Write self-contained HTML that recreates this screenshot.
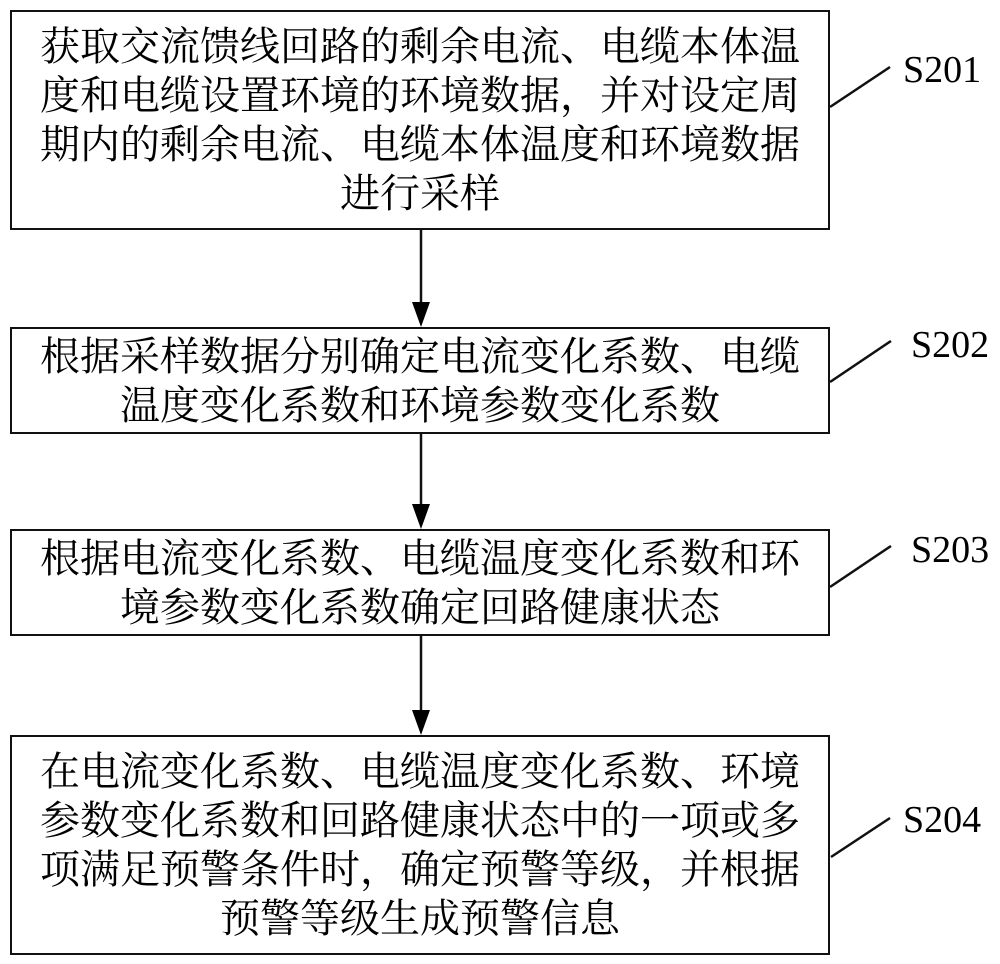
<!DOCTYPE html>
<html><head><meta charset="utf-8"><style>
html,body{margin:0;padding:0;background:#fff;}
body{width:1000px;height:964px;position:relative;overflow:hidden;font-family:"Liberation Serif","Noto Serif CJK SC",serif;}
.box{position:absolute;left:10px;width:820px;border:2px solid #111;box-sizing:border-box;display:flex;flex-direction:column;justify-content:center;align-items:center;}
.box div{font-size:40px;line-height:49px;letter-spacing:0;white-space:nowrap;color:#000;text-align:center;}
.lab{position:absolute;font-size:38px;color:#000;}
</style></head><body>
<div class="box" style="top:10px;height:220px;">
<div>获取交流馈线回路的剩余电流、电缆本体温</div>
<div>度和电缆设置环境的环境数据，并对设定周</div>
<div>期内的剩余电流、电缆本体温度和环境数据</div>
<div>进行采样</div>
</div>
<div class="box" style="top:327px;height:107px;">
<div>根据采样数据分别确定电流变化系数、电缆</div>
<div>温度变化系数和环境参数变化系数</div>
</div>
<div class="box" style="top:529px;height:107px;">
<div>根据电流变化系数、电缆温度变化系数和环</div>
<div>境参数变化系数确定回路健康状态</div>
</div>
<div class="box" style="top:735px;height:220px;">
<div>在电流变化系数、电缆温度变化系数、环境</div>
<div>参数变化系数和回路健康状态中的一项或多</div>
<div>项满足预警条件时，确定预警等级，并根据</div>
<div>预警等级生成预警信息</div>
</div>
<svg width="1000" height="964" style="position:absolute;left:0;top:0" xmlns="http://www.w3.org/2000/svg">
<g stroke="#111" stroke-width="2.5" fill="none">
<line x1="421" y1="230" x2="421" y2="305"/>
<line x1="421" y1="434" x2="421" y2="506"/>
<line x1="421" y1="636" x2="421" y2="712"/>
<line x1="830" y1="107" x2="890" y2="67"/>
<line x1="830" y1="382" x2="891" y2="341"/>
<line x1="830" y1="587" x2="891" y2="546"/>
<line x1="831" y1="857" x2="890" y2="818"/>
</g>
<g fill="#000">
<polygon points="412,302 430,302 421,327"/>
<polygon points="412,504 430,504 421,529"/>
<polygon points="412,710 430,710 421,735"/>
</g>
</svg>
<div class="lab" style="left:903px;top:48px;">S201</div>
<div class="lab" style="left:911px;top:323px;">S202</div>
<div class="lab" style="left:911px;top:528px;">S203</div>
<div class="lab" style="left:903px;top:798px;">S204</div>
</body></html>
